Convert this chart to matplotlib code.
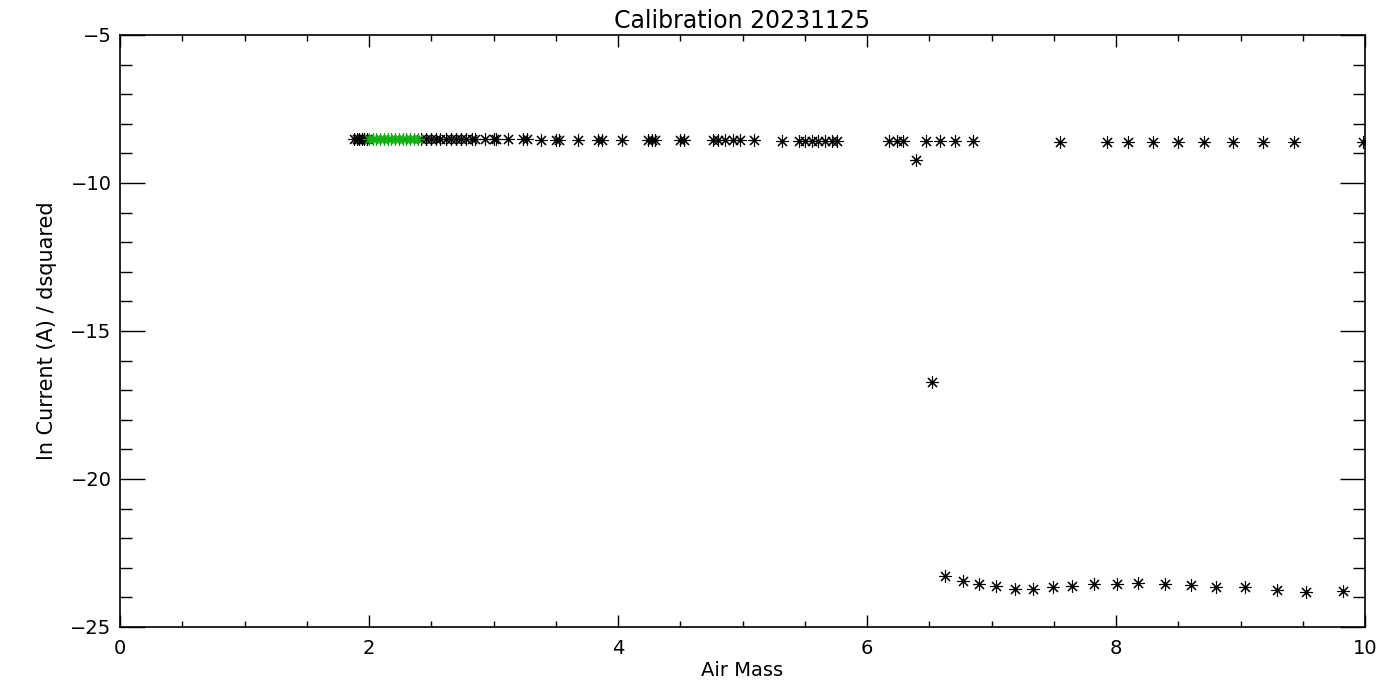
import matplotlib
matplotlib.use('Agg')
import matplotlib.pyplot as plt
from matplotlib.ticker import MultipleLocator

# upper row (black)
air_mass_hi = [1.88, 1.90, 1.92, 1.94, 1.96, 1.98,
               2.42, 2.46, 2.50, 2.54, 2.57, 2.62, 2.66, 2.70, 2.74, 2.78, 2.83, 2.85,
               2.93, 3.00, 3.02, 3.12, 3.24, 3.27, 3.38, 3.50, 3.53, 3.68, 3.84, 3.87,
               4.03, 4.24, 4.27, 4.30, 4.50, 4.53, 4.76, 4.80, 4.86, 4.92, 4.98, 5.09,
               5.32, 5.45, 5.50, 5.56, 5.61, 5.66, 5.72, 5.76, 6.18, 6.24, 6.29, 6.39,
               6.47, 6.52, 6.59, 6.71, 6.85, 7.55, 7.93, 8.10, 8.30, 8.50, 8.71, 8.94,
               9.18, 9.43, 9.98]
current_hi = [-8.50, -8.50, -8.50, -8.50, -8.50, -8.50,
              -8.51, -8.51, -8.51, -8.52, -8.52, -8.52, -8.52, -8.52, -8.52, -8.52, -8.52, -8.52,
              -8.53, -8.53, -8.53, -8.53, -8.53, -8.53, -8.54, -8.54, -8.54, -8.54, -8.54, -8.54,
              -8.55, -8.55, -8.55, -8.55, -8.55, -8.55, -8.56, -8.56, -8.56, -8.56, -8.56, -8.56,
              -8.57, -8.57, -8.57, -8.57, -8.57, -8.57, -8.57, -8.57, -8.58, -8.58, -8.58, -9.22,
              -8.58, -16.72, -8.58, -8.58, -8.58, -8.60, -8.60, -8.60, -8.60, -8.60, -8.60, -8.60,
              -8.60, -8.60, -8.60]

# lower row (black)
air_mass_lo = [6.63, 6.77, 6.90, 7.04, 7.19, 7.33, 7.49, 7.65, 7.82, 8.01, 8.18,
               8.39, 8.60, 8.80, 9.04, 9.29, 9.53, 9.82]
current_lo = [-23.28, -23.44, -23.55, -23.61, -23.71, -23.71, -23.66, -23.61, -23.55,
              -23.55, -23.50, -23.55, -23.59, -23.64, -23.66, -23.75, -23.82, -23.77]

# selected points (green)
air_mass_sel = [2.00, 2.03, 2.06, 2.09, 2.12, 2.15, 2.18, 2.21, 2.24, 2.27, 2.30,
                2.33, 2.36, 2.39]
current_sel = [-8.50, -8.50, -8.50, -8.50, -8.51, -8.51, -8.51, -8.51, -8.51, -8.51,
               -8.51, -8.51, -8.51, -8.51]

fig = plt.figure(figsize=(14, 7), dpi=100)
ax = fig.add_axes([120/1400, 1-627/700, 1245/1400, 592/700])

star = (8, 2, 0)
ax.scatter(air_mass_hi, current_hi, marker=star, s=75, c='k', linewidths=0.8)
ax.scatter(air_mass_lo, current_lo, marker=star, s=75, c='k', linewidths=0.8)
ax.scatter(air_mass_sel, current_sel, marker=star, s=75, c='#10b010', linewidths=0.8)

ax.set_xlim(0, 10)
ax.set_ylim(-25, -5)
ax.xaxis.set_major_locator(MultipleLocator(2))
ax.xaxis.set_minor_locator(MultipleLocator(0.5))
ax.yaxis.set_major_locator(MultipleLocator(5))
ax.yaxis.set_minor_locator(MultipleLocator(1))
ax.tick_params(axis='x', which='major', direction='in', length=8.6, width=1,
               top=True, labelsize=14, pad=9)
ax.tick_params(axis='x', which='minor', direction='in', length=4.3, width=1, top=True)
ax.tick_params(axis='y', which='major', direction='in', length=18, width=1,
               right=True, labelsize=14, pad=6)
ax.tick_params(axis='y', which='minor', direction='in', length=8.6, width=1, right=True)
for sp in ax.spines.values():
    sp.set_linewidth(1.2)

ax.set_title('Calibration 20231125', fontsize=17, pad=5)
ax.set_xlabel('Air Mass', fontsize=14, labelpad=2)
ax.set_ylabel('ln Current (A) / dsquared', fontsize=15, labelpad=10)

fig.savefig('out.png', dpi=100)
